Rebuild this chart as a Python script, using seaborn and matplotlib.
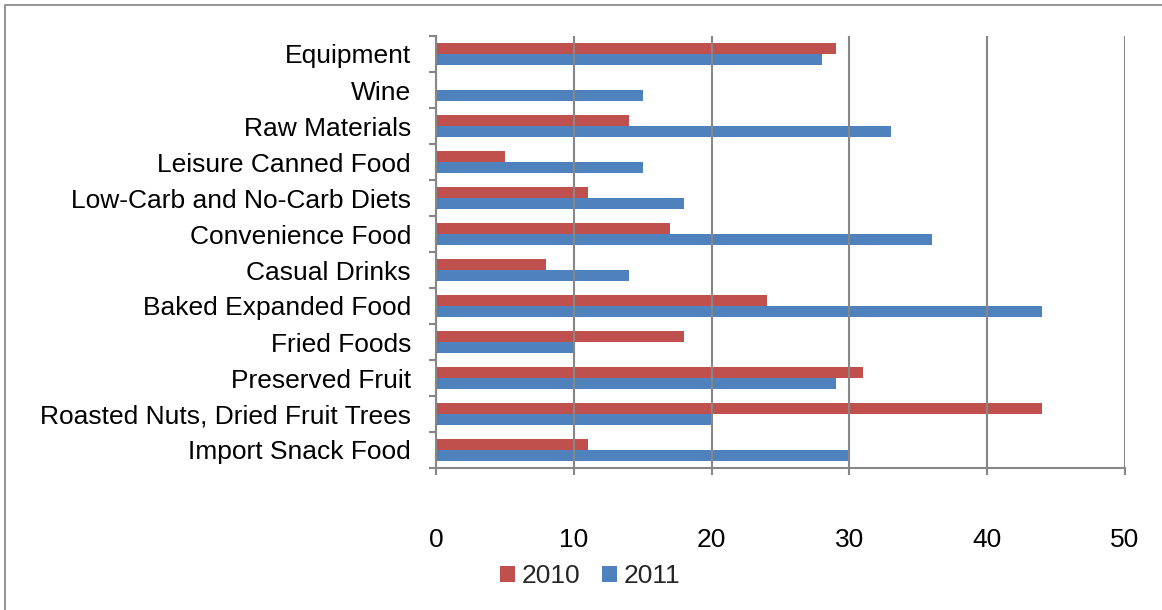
import matplotlib
matplotlib.use("Agg")
import matplotlib.pyplot as plt
from matplotlib.patches import Rectangle
import seaborn as sns
import pandas as pd
import numpy as np

categories = [
    "Equipment",
    "Wine",
    "Raw Materials",
    "Leisure Canned Food",
    "Low-Carb and No-Carb Diets",
    "Convenience Food",
    "Casual Drinks",
    "Baked Expanded Food",
    "Fried Foods",
    "Preserved Fruit",
    "Roasted Nuts, Dried Fruit Trees",
    "Import Snack Food",
]
values_2010 = [29, 0, 14, 5, 11, 17, 8, 24, 18, 31, 44, 11]
values_2011 = [28, 15, 33, 15, 18, 36, 14, 44, 10, 29, 20, 30]
years = ["2010", "2011"]
x_ticks = [0, 10, 20, 30, 40, 50]

df = pd.DataFrame({
    "category": categories * 2,
    "value": values_2010 + values_2011,
    "year": [years[0]] * len(categories) + [years[1]] * len(categories),
})

sns.set_theme(style="white")
plt.rcParams["font.family"] = ["Liberation Sans", "DejaVu Sans"]

FS = 19
GREY = "#878787"
palette = {"2010": "#C0504D", "2011": "#4F81BD"}

fig = plt.figure(figsize=(11.62, 6.10), dpi=100)
ax = fig.add_axes([436 / 1162, 1 - 468 / 610, (1125 - 436) / 1162, (468 - 36) / 610])

sns.barplot(
    data=df, y="category", x="value", hue="year", order=categories,
    hue_order=years, palette=palette, orient="h", width=0.6, gap=0,
    saturation=1, linewidth=0, ax=ax, legend=True,
)

ax.set_xlim(0, 50)
ax.set_ylim(len(categories) - 0.5, -0.5)
ax.set_xticks(x_ticks)
ax.set_xticklabels([str(t) for t in x_ticks], fontsize=FS, color="black")
ax.set_xlabel("")
ax.set_ylabel("")

# vertical gridlines
ax.grid(axis="x", color=GREY, linewidth=1.5)
ax.grid(axis="y", visible=False)
ax.set_axisbelow(False)
for line in ax.get_xgridlines():
    line.set_zorder(0.5)

for side in ("top", "right"):
    ax.spines[side].set_visible(False)
for side in ("left", "bottom"):
    ax.spines[side].set_color(GREY)
    ax.spines[side].set_linewidth(1.5)

# category labels, with tick marks on the category boundaries
ax.tick_params(axis="y", which="major", length=0, pad=18, labelsize=FS, labelcolor="black")
ax.set_yticks(np.arange(-0.5, len(categories), 1.0), minor=True)
ax.tick_params(axis="y", which="minor", length=5, width=1.5, color=GREY, direction="out", left=True)
ax.tick_params(axis="x", which="major", length=5, width=1.5, color=GREY, direction="out",
               bottom=True, pad=38)

# legend below the plot
handles, labels = ax.get_legend_handles_labels()
ax.legend_.remove()
fig.legend(handles, labels, loc="center", bbox_to_anchor=(590 / 1162, 1 - 576 / 610),
           ncol=2, frameon=False, fontsize=FS, handlelength=0.55, handleheight=0.55,
           handletextpad=0.25, columnspacing=0.85, borderpad=0)

# outer chart frame
fig.patches.append(Rectangle((5 / 1162, -0.05), 1.2, 1 - 5 / 610 + 0.05,
                             transform=fig.transFigure, fill=False,
                             edgecolor="#8c8c8c", linewidth=1.3, clip_on=False))

fig.savefig("out.png", dpi=100)
